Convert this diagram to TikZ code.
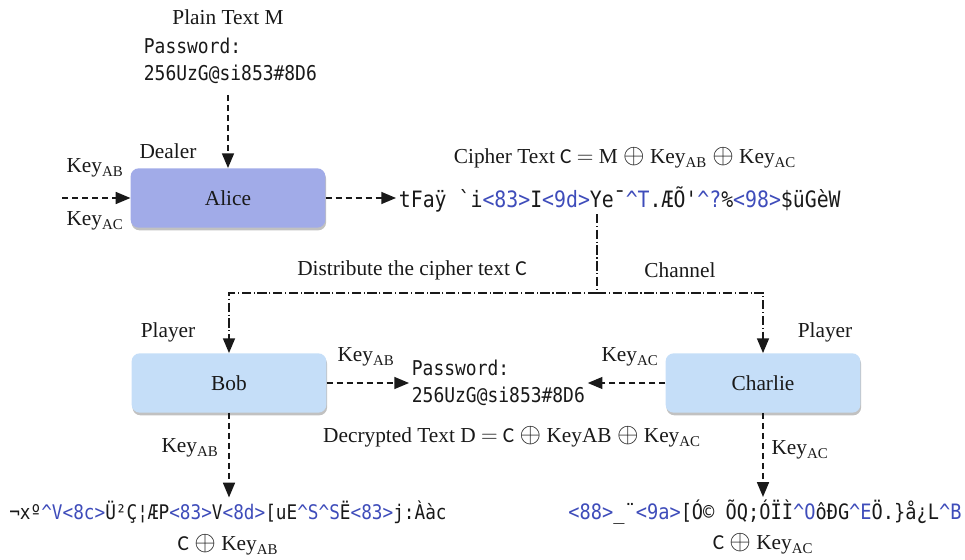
\documentclass[tikz,border=0pt]{standalone}
\usepackage{fontspec}
\setmainfont{Liberation Serif}
\setmonofont[FakeStretch=0.88]{DejaVu Sans Mono}
\newfontfamily\calib{Carlito}
\usetikzlibrary{arrows.meta,shadows}
\definecolor{alicec}{RGB}{161,171,232}
\definecolor{playerc}{RGB}{197,222,248}
\definecolor{hexblue}{RGB}{62,76,186}
\definecolor{ink}{RGB}{25,25,25}
\newcommand{\hb}[1]{\textcolor{hexblue}{#1}}
\newcommand{\kab}{Key\textsubscript{AB}}
\newcommand{\kac}{Key\textsubscript{AC}}
\newcommand{\cc}{{\calib C}}
\newcommand{\xo}{{\fontsize{20}{20}\selectfont$\oplus$}}
\newcommand{\crt}{\textasciicircum}
\begin{document}
\begin{tikzpicture}[x=0.75pt,y=-0.75pt, every node/.style={text=ink},
 lbl/.style={font=\fontsize{16}{18}\selectfont, inner sep=0.5pt},
 box/.style={draw=none, rounded corners=6pt, minimum width=146pt, minimum height=44.5pt,
   font=\fontsize{16}{18}\selectfont,
   drop shadow={shadow xshift=0.6pt, shadow yshift=-2pt, opacity=0.35, fill=black!70}},
 tip/.style={-{Triangle[length=11pt,width=9pt]}},
 dsh/.style={tip, dash pattern=on 4.5pt off 3pt, line width=1pt, draw=ink},
 ddot/.style={dash pattern=on 7pt off 2pt on 0.8pt off 2pt, line width=1pt, draw=ink},
 pwd/.style={inner sep=2pt, align=left, font=\ttfamily\fontsize{15.3}{19.8}\selectfont},
 garb/.style={inner xsep=2pt, inner ysep=0pt, text depth=2pt, font=\ttfamily\fontsize{#1}{18}\selectfont}]

\useasboundingbox (0,0) rectangle (965,560);

% top: plain text and Alice
\node[lbl] (ptm) at (228,17) {Plain Text M};
\node[pwd, anchor=west] (pt) at (141,61) {Password:\\256UzG@si853\#8D6};
\coordinate (ptend) at (228,95);
\node[box, fill=alicec] (alice) at (228,198) {Alice};
\node[lbl] (dealer) at (168,151) {Dealer};
\node[lbl] (kab1) at (95,168) {\kab};
\node[lbl] (kac1) at (95,221) {\kac};
\coordinate (kin) at (62,198);

% cipher text
\node[lbl] (ctl) at (625,158) {Cipher Text \cc{} $=$ M \xo{} \kab{} \xo{} \kac};
\node[garb=16.9, anchor=west] (ct) at (396,198) {tFaÿ `i\hb{<83>}I\hb{<9d>}Ye¯\hb{\crt T}.ÆÕ'\hb{\crt ?}\%\hb{<98>}\$üGèW};
\coordinate (ctdown) at (597,214);
\coordinate (split) at (597,293);
\node[lbl] (dist) at (412,270) {Distribute the cipher text \cc};
\node[lbl] (chan) at (680,270) {Channel};

% players
\node[box, fill=playerc] (bob) at (229,383) {Bob};
\node[box, fill=playerc] (charlie) at (763,383) {Charlie};
\node[lbl] (pl1) at (168,332) {Player};
\node[lbl] (pl2) at (825,332) {Player};
\node[pwd, anchor=west] (dp) at (409,383) {Password:\\256UzG@si853\#8D6};
\node[lbl] (kab2) at (366,357) {\kab};
\node[lbl] (kac2) at (630,357) {\kac};
\node[lbl] (dtl) at (512,437) {Decrypted Text D $=$ \cc{} \xo{} KeyAB \xo{} \kac};
\node[lbl] (kab3) at (190,448) {\kab};
\node[lbl] (kac3) at (800,450) {\kac};

% wrong decryptions
\node[garb=15.1] (bt) at (228,511) {¬xº\hb{\crt V<8c>}Ü²Ç¦ÆP\hb{<83>}V\hb{<8d>}[uE\hb{\crt S\crt S}Ë\hb{<83>}j:Ààc};
\node[garb=15.9] (cht) at (765,511) {\hb{<88>}\_¨\hb{<9a>}[Ó© ÕQ;ÓÏÌ\hb{\crt O}ôÐG\hb{\crt E}Ö.\}å¿L\hb{\crt B}};
\node[lbl] (cab) at (228,545) {\cc{} \xo{} \kab};
\node[lbl] (cac) at (763,544) {\cc{} \xo{} \kac};

% connectors
\draw[dsh] (ptend) -- (alice.north);
\draw[dsh] (kin) -- (alice.west);
\draw[dsh] (alice.east) -- (ct.west);
\draw[ddot] (ctdown) -- (split);
\draw[ddot, tip] (split) -| (bob.north);
\draw[ddot, tip] (split) -| (charlie.north);
\draw[dsh] (bob.east) -- (dp.west);
\draw[dsh] (charlie.west) -- (dp.east);
\draw[dsh] (bob.south) -- ([yshift=2pt]bob.south |- bt.north);
\draw[dsh] (charlie.south) -- ([yshift=2pt]charlie.south |- cht.north);
\end{tikzpicture}
\end{document}
